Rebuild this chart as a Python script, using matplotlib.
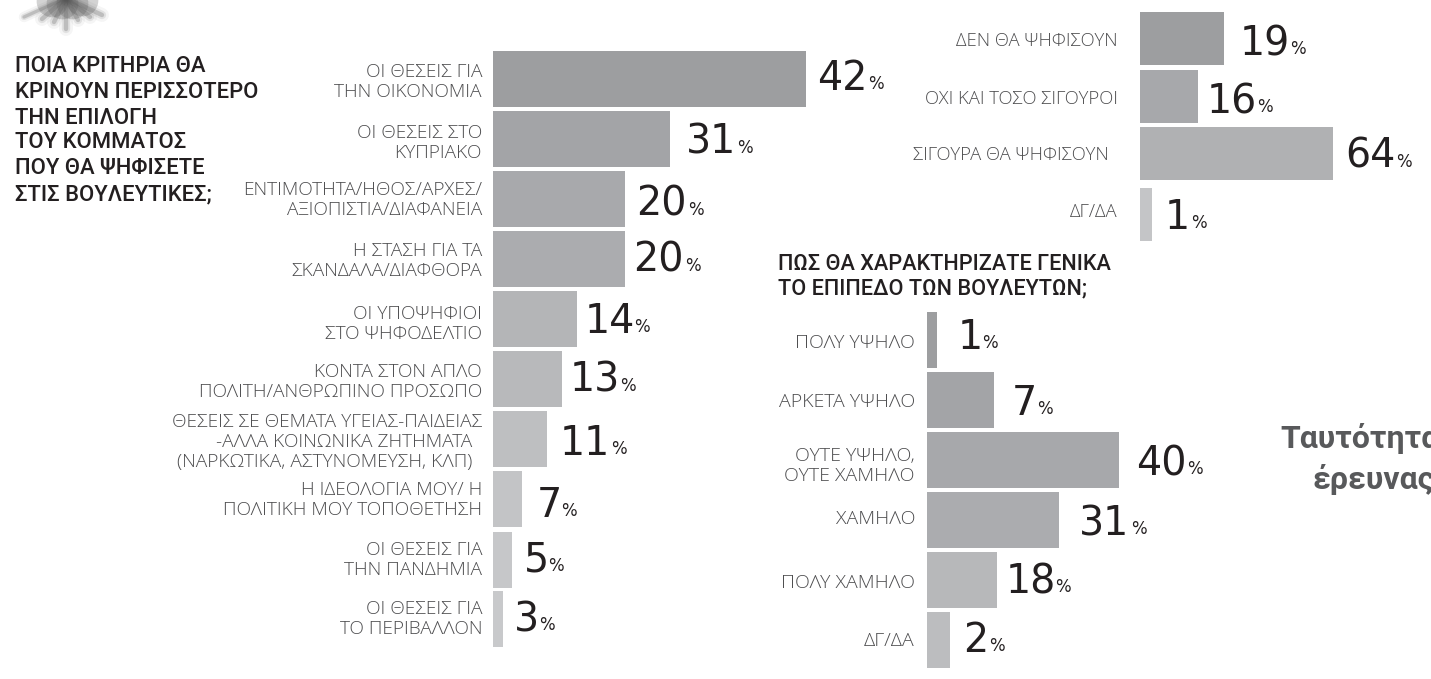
import matplotlib
matplotlib.use("Agg")
import matplotlib.pyplot as plt

WIDTH, HEIGHT = 1431, 679
LABEL_FONT = "Open Sans"
HEAD_FONT = "Roboto"
NUM_FONT = "DejaVu Sans"

# left chart: shown percentage and drawn bar length (bars are not to scale in the original)
criteria_labels = [
    "ΟΙ ΘΕΣΕΙΣ ΓΙΑ\nΤΗΝ ΟΙΚΟΝΟΜΙΑ",
    "ΟΙ ΘΕΣΕΙΣ ΣΤΟ\nΚΥΠΡΙΑΚΟ",
    "ΕΝΤΙΜΟΤΗΤΑ/ΗΘΟΣ/ΑΡΧΕΣ/\nΑΞΙΟΠΙΣΤΙΑ/ΔΙΑΦΑΝΕΙΑ",
    "Η ΣΤΑΣΗ ΓΙΑ ΤΑ\nΣΚΑΝΔΑΛΑ/ΔΙΑΦΘΟΡΑ",
    "ΟΙ ΥΠΟΨΗΦΙΟΙ\nΣΤΟ ΨΗΦΟΔΕΛΤΙΟ",
    "ΚΟΝΤΑ ΣΤΟΝ ΑΠΛΟ\nΠΟΛΙΤΗ/ΑΝΘΡΩΠΙΝΟ ΠΡΟΣΩΠΟ",
    "ΘΕΣΕΙΣ ΣΕ ΘΕΜΑΤΑ ΥΓΕΙΑΣ-ΠΑΙΔΕΙΑΣ\n-ΑΛΛΑ ΚΟΙΝΩΝΙΚΑ ΖΗΤΗΜΑΤΑ  \n(ΝΑΡΚΩΤΙΚΑ, ΑΣΤΥΝΟΜΕΥΣΗ, ΚΛΠ)  ",
    "Η ΙΔΕΟΛΟΓΙΑ ΜΟΥ/ Η\nΠΟΛΙΤΙΚΗ ΜΟΥ ΤΟΠΟΘΕΤΗΣΗ",
    "ΟΙ ΘΕΣΕΙΣ ΓΙΑ\nΤΗΝ ΠΑΝΔΗΜΙΑ",
    "ΟΙ ΘΕΣΕΙΣ ΓΙΑ\nΤΟ ΠΕΡΙΒΑΛΛΟΝ",
]
criteria_pct = [42, 31, 20, 20, 14, 13, 11, 7, 5, 3]
criteria_len = [313.5, 177, 132, 132.5, 84, 69.5, 54.5, 29, 19, 10]

# top right chart
vote_labels = ["ΔΕΝ ΘΑ ΨΗΦΙΣΟΥΝ", "ΟΧΙ ΚΑΙ ΤΟΣΟ ΣΙΓΟΥΡΟΙ", "ΣΙΓΟΥΡΑ ΘΑ ΨΗΦΙΣΟΥΝ  ", "ΔΓ/ΔΑ"]
vote_pct = [19, 16, 64, 1]
vote_len = [84, 58, 193, 12]

# middle chart
level_labels = ["ΠΟΛΥ ΥΨΗΛΟ", "ΑΡΚΕΤΑ ΥΨΗΛΟ", "ΟΥΤΕ ΥΨΗΛΟ,\nΟΥΤΕ ΧΑΜΗΛΟ", "ΧΑΜΗΛΟ", "ΠΟΛΥ ΧΑΜΗΛΟ", "ΔΓ/ΔΑ"]
level_pct = [1, 7, 40, 31, 18, 2]
level_len = [10, 67, 192, 132.5, 70, 23]

criteria_colors = ["#9d9ea0", "#a3a4a7", "#a8a9ac", "#abacaf", "#b4b5b7",
                   "#b8b9bb", "#bebfc1", "#c3c4c6", "#c6c7c9", "#c8c9cb"]
vote_colors = ["#9d9ea0", "#a7a8ab", "#b0b1b3", "#c4c5c7"]
level_colors = ["#9d9ea0", "#a3a4a7", "#a7a8ab", "#abacaf", "#b7b8ba", "#bcbdbf"]


def draw_group(ax, labels, pct, lengths, colors, left, bar_y, bar_h, label_x, label_y, label_size, num_x, pct_x, base_y):
    ax.barh(bar_y, lengths, height=bar_h, left=left, color=colors, linewidth=0)
    for i, label in enumerate(labels):
        ax.text(label_x, label_y[i] + 2, label, ha="right", va="center", multialignment="right",
                family=LABEL_FONT, fontweight="light", fontsize=label_size, color="#4d4d4f",
                linespacing=15.9 / label_size)
        ax.text(num_x[i], base_y[i], str(pct[i]), ha="left", va="baseline",
                family=NUM_FONT, fontsize=28.5, color="#231f20")
        ax.text(pct_x[i], base_y[i] - 1, "%", ha="left", va="baseline",
                family=NUM_FONT, fontsize=12, color="#231f20")


def draw_logo(ax):
    # blurred sunburst cut off by the top edge
    rays = [(66, 29, 4), (24, 17, 3), (102, 15, 4), (42, 19, 4), (90, 17, 4), (54, 22, 4), (78, 20, 4)]
    for x, y, w in rays:
        for lw, alpha in [(w * 2.5, 0.06), (w * 1.5, 0.12), (w * 0.8, 0.25)]:
            ax.plot([66, x], [-2, y], color="#555555", lw=lw, alpha=alpha, solid_capstyle="round")
    ax.scatter([52, 62, 72, 82], [1, 3, 3, 0], s=520, color="#707070", alpha=0.3, linewidths=0)


fig = plt.figure(figsize=(WIDTH / 100, HEIGHT / 100), dpi=100)
ax = fig.add_axes([0, 0, 1, 1])
ax.set_xlim(0, WIDTH)
ax.set_ylim(HEIGHT, 0)
ax.axis("off")

draw_logo(ax)

draw_group(
    ax, criteria_labels, criteria_pct, criteria_len, criteria_colors, 492.5,
    [79, 139, 199, 259, 319, 379, 439, 499, 560, 619], 56, 482,
    [80, 141, 198, 259, 322, 380, 440, 498, 558, 617], 13.8,
    [817, 686, 636, 633, 585, 570, 560, 537, 524, 514],
    [868, 737, 688, 685, 634, 620, 611, 561, 548, 539],
    [90, 154, 216, 272, 333, 392, 455, 517, 572, 631],
)
draw_group(
    ax, vote_labels, vote_pct, vote_len, vote_colors, 1140,
    [38.5, 96.5, 153.5, 214.5], 53, 1118,
    [39, 97, 153, 210], 13.3,
    [1240, 1207, 1345, 1165],
    [1290, 1257, 1396, 1191],
    [55, 113, 168, 229],
)
draw_group(
    ax, level_labels, level_pct, level_len, level_colors, 926.5,
    [340, 400, 460, 520, 580, 640], 56, 915,
    [341, 400, 464, 517, 581, 639], 14,
    [958, 1012, 1136, 1079, 1006, 963],
    [982, 1037, 1187, 1131, 1055, 989],
    [349, 415, 475, 535, 593, 652],
)

left_title = ["ΠΟΙΑ ΚΡΙΤΗΡΙΑ ΘΑ", "ΚΡΙΝΟΥΝ ΠΕΡΙΣΣΟΤΕΡΟ", "ΤΗΝ ΕΠΙΛΟΓΗ", "ΤΟΥ ΚΟΜΜΑΤΟΣ", "ΠΟΥ ΘΑ ΨΗΦΙΣΕΤΕ", "ΣΤΙΣ ΒΟΥΛΕΥΤΙΚΕΣ;"]
for y, line in zip([67, 92, 118, 143, 168, 195], left_title):
    ax.text(15, y, line, va="center", family=HEAD_FONT, fontweight="medium", fontsize=15.8, color="#231f20")

mid_title = ["ΠΩΣ ΘΑ ΧΑΡΑΚΤΗΡΙΖΑΤΕ ΓΕΝΙΚΑ", "ΤΟ ΕΠΙΠΕΔΟ ΤΩΝ ΒΟΥΛΕΥΤΩΝ;"]
for y, line in zip([264, 289], mid_title):
    ax.text(778, y, line, va="center", family=HEAD_FONT, fontweight="medium", fontsize=15.6, color="#231f20")

ax.text(1280, 448, "Ταυτότητα", family=HEAD_FONT, fontweight="bold", fontsize=23, color="#58595b", va="baseline")
ax.text(1313, 489, "έρευνας", family=HEAD_FONT, fontweight="bold", fontsize=23, color="#58595b", va="baseline")

fig.savefig("out.png", dpi=100)
